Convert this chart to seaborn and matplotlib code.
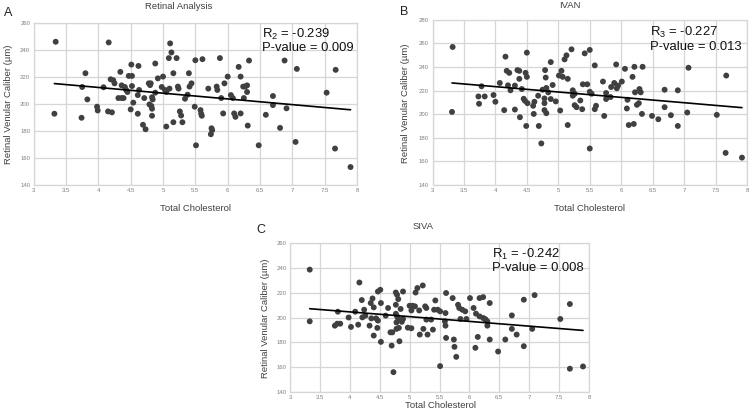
import numpy as np
import matplotlib
matplotlib.use("Agg")
import matplotlib.pyplot as plt
from matplotlib.ticker import FuncFormatter
import seaborn as sns

# ---------------- data ----------------
a_chol = [3.34,3.32,3.80,3.75,3.74,3.83,3.98,3.99,4.08,4.16,
          4.15,4.21,4.19,4.23,4.25,4.34,4.31,4.36,4.39,4.36,
          4.41,4.43,4.45,4.47,4.52,4.51,4.52,4.50,4.54,4.62,
          4.61,4.63,4.61,4.69,4.73,4.71,4.78,4.81,4.80,4.79,
          4.82,4.83,4.84,4.83,4.83,4.88,4.88,4.92,5.00,4.98,
          5.03,5.05,5.05,5.09,5.11,5.13,5.10,5.16,5.16,5.21,
          5.23,5.24,5.26,5.28,5.30,5.34,5.38,5.40,5.41,5.44,
          5.49,5.50,5.51,5.58,5.59,5.60,5.61,5.70,5.74,5.75,
          5.76,5.83,5.84,5.88,5.90,5.93,5.95,6.00,6.05,6.08,
          6.10,6.12,6.17,6.20,6.20,6.24,6.27,6.25,6.30,6.30,
          6.31,6.33,6.48,6.59,6.70,6.70,6.81,6.88,6.91,7.05,
          7.07,7.53,7.67,7.66,7.90]
a_cal = [246.1,192.8,222.8,212.6,189.8,203.4,198.0,195.2,212.4,245.6,
         194.5,193.8,218.3,217.6,215.3,223.8,204.4,204.4,204.4,213.8,
         212.6,210.4,208.9,220.8,220.8,229.2,213.3,196.0,201.0,228.2,
         206.6,210.4,192.8,184.6,181.3,204.4,215.3,215.3,214.0,199.7,
         198.5,205.0,203.4,196.5,191.3,230.0,208.4,219.0,220.3,212.6,
         210.4,208.9,183.3,234.0,244.9,238.2,211.4,222.8,186.5,234.0,
         212.9,211.4,194.5,191.5,186.5,203.9,206.9,222.8,212.9,215.3,
         198.0,232.4,169.4,195.5,192.8,191.3,233.2,211.4,177.6,182.0,
         180.6,212.9,210.4,234.0,204.4,193.0,215.3,220.3,206.6,204.4,
         193.0,190.5,227.5,220.3,193.0,212.9,212.9,204.4,213.8,208.9,
         184.0,232.2,169.4,192.0,205.9,199.2,182.3,232.2,196.8,171.9,
         226.0,208.4,225.3,167.0,153.3]

b_chol = [3.32,3.31,3.73,3.74,3.78,3.83,3.97,4.00,4.07,4.14,
          4.16,4.18,4.22,4.20,4.24,4.31,4.31,4.35,4.38,4.38,
          4.39,4.42,4.45,4.47,4.48,4.50,4.50,4.49,4.51,4.60,
          4.61,4.62,4.68,4.69,4.73,4.75,4.78,4.79,4.80,4.78,
          4.81,4.78,4.81,4.84,4.88,4.91,4.88,4.96,5.03,5.01,
          5.05,5.07,5.10,5.13,5.15,5.15,5.21,5.23,5.23,5.26,
          5.26,5.29,5.35,5.38,5.42,5.39,5.46,5.50,5.50,5.50,
          5.53,5.58,5.58,5.60,5.71,5.73,5.76,5.76,5.83,5.84,
          5.89,5.95,5.92,5.93,6.01,6.06,6.09,6.10,6.12,6.20,
          6.18,6.21,6.22,6.25,6.28,6.29,6.31,6.33,6.34,6.49,
          6.59,6.69,6.69,6.79,6.90,6.90,7.05,7.07,7.52,7.67,
          7.66,7.92]
b_cal = [256.9,201.9,215.0,208.8,223.6,215.0,216.2,210.5,226.4,203.4,
         248.7,236.7,235.0,224.4,220.2,224.2,203.9,237.3,236.7,229.9,
         197.4,221.3,213.0,211.3,235.0,231.6,252.1,190.0,209.3,207.1,
         200.2,210.5,215.6,190.0,175.2,220.7,213.3,237.3,231.0,203.4,
         200.8,209.3,222.2,218.5,244.1,224.7,212.8,210.8,203.1,232.7,
         236.7,231.6,246.4,249.8,229.9,190.8,254.9,220.2,215.6,217.3,
         207.6,205.9,211.6,204.2,251.5,225.3,225.3,254.4,170.9,219.0,
         217.3,241.3,204.2,207.1,227.6,198.5,217.9,212.8,214.5,223.0,
         226.4,224.2,242.1,221.9,227.6,238.4,204.8,212.2,190.8,191.7,
         231.6,240.1,218.5,207.9,209.3,221.3,218.5,200.2,240.1,198.5,
         195.7,220.7,205.9,199.1,220.2,190.0,201.4,239.3,199.4,232.7,
         167.2,163.2]

c_chol = [3.33,3.33,3.75,3.79,3.84,3.80,3.98,4.02,4.16,4.20,
          4.09,4.14,4.24,4.21,4.26,4.35,4.38,4.40,4.33,4.40,
          4.46,4.36,4.44,4.47,4.51,4.47,4.52,4.52,4.60,4.64,
          4.68,4.71,4.70,4.73,4.77,4.79,4.81,4.77,4.77,4.79,
          4.81,4.78,4.82,4.78,4.83,4.85,4.89,4.89,4.87,4.97,
          5.03,5.00,5.05,5.09,5.03,5.16,5.10,5.13,5.22,5.17,
          5.23,5.26,5.28,5.28,5.36,5.30,5.39,5.43,5.41,5.47,
          5.51,5.60,5.51,5.59,5.60,5.61,5.61,5.72,5.74,5.75,
          5.78,5.81,5.83,5.88,5.93,5.85,5.95,6.01,6.07,6.10,
          6.14,6.11,6.17,6.23,6.27,6.17,6.23,6.34,6.26,6.30,
          6.30,6.34,6.48,6.60,6.71,6.71,6.79,6.91,6.91,7.05,
          7.09,7.52,7.68,7.68,7.90]
c_cal = [238.7,196.9,193.4,195.0,195.0,204.7,200.0,192.4,228.3,214.1,
         204.7,194.2,206.3,200.1,201.5,211.7,215.4,208.2,193.4,185.4,
         191.6,199.3,199.3,221.0,222.4,197.5,211.7,180.3,201.5,207.7,
         188.0,188.0,177.3,155.8,220.2,218.4,214.9,210.3,203.0,201.0,
         199.0,196.0,191.6,190.8,180.8,206.9,221.0,198.8,196.5,191.8,
         191.3,209.5,209.5,209.0,205.7,205.7,220.2,223.8,225.9,186.2,
         190.8,209.0,207.7,198.3,198.3,186.2,190.2,213.8,206.3,206.3,
         205.0,203.6,160.7,196.9,193.4,219.8,183.5,215.7,182.2,176.3,
         168.2,210.3,207.7,206.3,205.0,198.8,198.8,215.7,207.7,175.5,
         184.3,203.1,200.9,199.6,198.3,215.7,216.5,211.7,198.8,196.9,
         193.4,182.2,172.5,182.2,201.7,190.8,186.2,214.4,176.8,190.8,
         218.1,198.8,210.9,158.6,160.4]

titles = ["Retinal Analysis", "IVAN", "SIVA"]
letters = ["A", "B", "C"]
stats = ["R$_2$ = -0.239\nP-value = 0.009",
         "R$_3$ = -0.227\nP-value = 0.013",
         "R$_1$ = -0.242\nP-value = 0.008"]
ylims = [(140, 260), (140, 280), (140, 260)]
x_label = "Total Cholesterol"
y_label = "Retinal Venular Caliber (\u00b5m)"

# ---------------- style ----------------
sns.set_theme(style="white")
plt.rcParams["font.family"] = ["Liberation Sans", "DejaVu Sans"]
plt.rcParams["mathtext.default"] = "regular"

W, H = 749, 419
fig = plt.figure(figsize=(W / 100, H / 100), dpi=100)


def px(x, y):
    return x / W, 1 - y / H


# axes rectangles in pixels: left, top, right, bottom
rects = [(33.7, 23.0, 357.0, 185.0),
         (432.5, 19.7, 747.0, 185.0),
         (290.0, 243.3, 589.0, 391.7)]
datasets = [(a_chol, a_cal), (b_chol, b_cal), (c_chol, c_cal)]

title_pos = [(178.6, 6.5), (570, 5.5), (423, 226)]
letter_pos = [(4, 13), (400, 12), (256, 230)]
ylab_pos = [(9, 104), (405, 103), (265, 318)]
xlab_pos = [(195, 208), (590, 208), (440, 405)]
stat_pos = [(262, 40.5), (650, 39), (492.5, 260.5)]

grid_c = "#d6d6d6"
for i in range(3):
    l, t, r, b = rects[i]
    ax = fig.add_axes([l / W, 1 - b / H, (r - l) / W, (b - t) / H])
    xs, ys = datasets[i]
    sns.regplot(x=np.array(xs), y=np.array(ys), ax=ax, ci=None, truncate=True,
                scatter_kws=dict(s=18, color="#404040", edgecolor="none", alpha=1, zorder=3),
                line_kws=dict(color="black", lw=1.2, zorder=4))
    ax.set_xlim(3, 8)
    ax.set_ylim(*ylims[i])
    ax.set_xticks(np.arange(3, 8.01, 0.5))
    ax.set_yticks(np.arange(ylims[i][0], ylims[i][1] + 1, 20))
    ax.xaxis.set_major_formatter(FuncFormatter(lambda v, p: f"{v:g}"))
    ax.tick_params(axis="both", length=0, labelsize=4.3, colors="#808080", pad=2.5)
    ax.grid(True, color=grid_c, lw=0.9)
    ax.set_axisbelow(True)
    for s in ax.spines.values():
        s.set_color(grid_c)
        s.set_linewidth(0.9)
    ax.set_xlabel("")
    ax.set_ylabel("")

    fig.text(*px(*title_pos[i]), titles[i], ha="center", va="center",
             fontsize=6.8, color="#404040")
    fig.text(*px(*letter_pos[i]), letters[i], ha="left", va="center",
             fontsize=9, color="#222222")
    fig.text(*px(*ylab_pos[i]), y_label, ha="center", va="center",
             rotation=90, fontsize=6.8, color="#404040")
    fig.text(*px(*xlab_pos[i]), x_label, ha="center", va="center",
             fontsize=6.8, color="#404040")
    fig.text(*px(*stat_pos[i]), stats[i], ha="left", va="center",
             fontsize=9.4, color="#111111", linespacing=1.05)

fig.savefig("out.png", dpi=100, facecolor="white")
